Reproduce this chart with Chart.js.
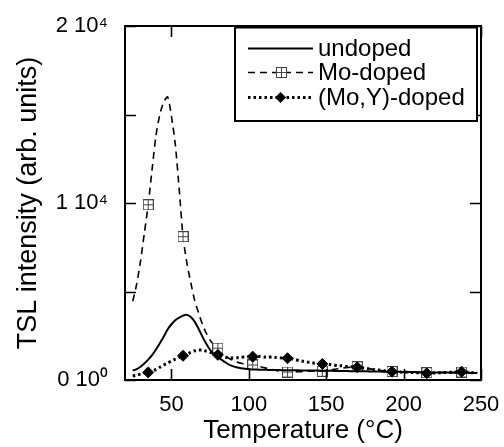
<!DOCTYPE html>
<html>
<head>
<meta charset="utf-8">
<script src="https://cdn.jsdelivr.net/npm/chart.js@4.4.1/dist/chart.umd.min.js"></script>
<style>
  html, body { margin: 0; padding: 0; background: #fff; }
  canvas { display: block; }
</style>
</head>
<body>
<canvas id="tsl-chart" width="504" height="447"></canvas>
<script>
// ---------------- data ----------------
const temps = [25, 27.5, 30, 32.5, 35, 37.5, 40, 42.5, 45, 47.5,
  50, 52.5, 55, 57.5, 60, 62.5, 65, 67.5, 70, 72.5,
  75, 77.5, 80, 82.5, 85, 87.5, 90, 92.5, 95, 97.5,
  100, 102.5, 105, 107.5, 110, 112.5, 115, 117.5, 120, 122.5,
  125, 127.5, 130, 132.5, 135, 137.5, 140, 142.5, 145, 147.5,
  150, 152.5, 155, 157.5, 160, 162.5, 165, 167.5, 170, 172.5,
  175, 177.5, 180, 182.5, 185, 187.5, 190, 192.5, 195, 197.5,
  200, 202.5, 205, 207.5, 210, 212.5, 215, 217.5, 220, 222.5,
  225, 227.5, 230, 232.5, 235, 237.5, 240, 242.5, 245, 247.5];

const undoped = [530, 620, 750, 930, 1150, 1400, 1720, 2080, 2450, 2850,
  3150, 3380, 3520, 3640, 3680, 3560, 3300, 2900, 2450, 2050,
  1700, 1450, 1290, 1140, 990, 860, 770, 710, 670, 640,
  620, 600, 590, 580, 575, 570, 565, 560, 560, 555,
  550, 550, 545, 545, 540, 540, 535, 530, 530, 525,
  520, 520, 515, 510, 510, 505, 500, 500, 495, 490,
  490, 485, 480, 480, 475, 470, 470, 465, 460, 460,
  455, 450, 450, 445, 440, 440, 435, 430, 430, 425,
  420, 420, 415, 410, 410, 405, 400, 400, 395, 390];

const moDoped = [4450, 5400, 6700, 8300, 9900, 11900, 13800, 15000, 15700, 16000,
  14900, 13300, 10800, 8100, 6600, 5500, 4500, 3800, 3150, 2650,
  2250, 1980, 1800, 1560, 1350, 1200, 1100, 1010, 950, 900,
  870, 850, 800, 750, 700, 640, 590, 540, 500, 470,
  450, 450, 460, 470, 480, 490, 495, 500, 500, 490,
  520, 560, 600, 640, 670, 700, 720, 740, 750, 720,
  680, 640, 600, 570, 540, 520, 500, 480, 470, 460,
  450, 440, 430, 420, 420, 420, 410, 410, 410, 420,
  420, 430, 440, 440, 450, 450, 440, 430, 410, 400];

const moYDoped = [230, 280, 330, 380, 430, 500, 600, 720, 850, 960,
  1070, 1180, 1280, 1370, 1460, 1560, 1650, 1700, 1690, 1630,
  1570, 1500, 1420, 1350, 1290, 1250, 1240, 1260, 1290, 1300,
  1320, 1320, 1300, 1340, 1300, 1280, 1320, 1270, 1250, 1240,
  1230, 1200, 1150, 1100, 1060, 1010, 990, 950, 930, 910,
  900, 870, 840, 810, 800, 770, 760, 740, 720, 700,
  670, 630, 600, 570, 550, 520, 500, 470, 460, 450,
  440, 440, 420, 420, 400, 390, 380, 390, 400, 410,
  420, 430, 440, 450, 460, 470, 450, 430, 410, 400];

// temperatures where the symbols sit on the curves
const markerTemps = [35, 57.5, 80, 102.5, 125, 147.5, 170, 192.5, 215, 237.5];

const seriesNames = ['undoped', 'Mo-doped', '(Mo,Y)-doped'];

const xTickValues = [50, 100, 150, 200, 250];
const yTickValues = [0, 5000, 10000, 15000, 20000];
const yLabelValues = [0, 10000, 20000];
const yTickLabels = ['0 10\u2070', '1 10\u2074', '2 10\u2074'];

const xTitle = 'Temperature (\u00B0C)';
const yTitle = 'TSL intensity (arb. units)';

// ---------------- marker images ----------------
function makeBoxCross(size) {
    const c = document.createElement('canvas');
    c.width = size; c.height = size;
    const g = c.getContext('2d');
    g.fillStyle = '#fff';
    g.fillRect(0, 0, size, size);
    g.strokeStyle = '#444';
    g.lineWidth = 1;
    g.strokeRect(0.5, 0.5, size - 1, size - 1);
    const m = Math.floor(size / 2) + 0.5;
    g.beginPath();
    g.moveTo(m, 0); g.lineTo(m, size);
    g.moveTo(0, m); g.lineTo(size, m);
    g.stroke();
    return c;
}
const boxCross = makeBoxCross(11);

const isMarker = ctx => markerTemps.indexOf(temps[ctx.dataIndex]) >= 0;

const toXY = vals => temps.map((t, i) => ({ x: t, y: vals[i] }));

const FONT = "'Liberation Sans', Arial, sans-serif";

// ---------------- frame, inward ticks and legend ----------------
const framePlugin = {
    id: 'frame',
    afterDraw(chart) {
        const ctx = chart.ctx;
        const a = chart.chartArea;
        const xs = chart.scales.x, ys = chart.scales.y;
        const tl = 11;
        ctx.save();
        ctx.strokeStyle = '#000';
        ctx.lineWidth = 1.6;
        ctx.beginPath();
        xTickValues.forEach(v => {
            const px = Math.round(xs.getPixelForValue(v)) + 0.5;
            ctx.moveTo(px, a.bottom); ctx.lineTo(px, a.bottom - tl);
            ctx.moveTo(px, a.top); ctx.lineTo(px, a.top + tl);
        });
        yTickValues.forEach(v => {
            const py = Math.round(ys.getPixelForValue(v)) + 0.5;
            ctx.moveTo(a.left, py); ctx.lineTo(a.left + tl, py);
            ctx.moveTo(a.right, py); ctx.lineTo(a.right - tl, py);
        });
        ctx.stroke();
        ctx.lineWidth = 2;
        ctx.strokeRect(a.left, a.top, a.right - a.left, a.bottom - a.top);

        // legend box
        const bx = 235, by = 27, bw = 242, bh = 94;
        ctx.fillStyle = '#fff';
        ctx.fillRect(bx, by, bw, bh);
        ctx.lineWidth = 2;
        ctx.strokeRect(bx, by, bw, bh);
        ctx.lineWidth = 3;
        ctx.beginPath();
        ctx.moveTo(bx - 1, by); ctx.lineTo(bx + bw + 1, by);
        ctx.stroke();

        const rows = [48, 72, 97];
        const x0 = 248, x1 = 313;
        chart.data.datasets.forEach((ds, i) => {
            const y = rows[i] + 0.5;
            ctx.save();
            ctx.strokeStyle = '#000';
            ctx.lineWidth = ds.borderWidth;
            ctx.setLineDash(ds.borderDash || []);
            ctx.beginPath();
            ctx.moveTo(x0, y); ctx.lineTo(x1, y);
            ctx.stroke();
            ctx.restore();
            const cx = (x0 + x1) / 2;
            if (ds.legendMarker === 'box') {
                ctx.drawImage(boxCross, Math.round(cx - 5), Math.round(y - 5.5));
            } else if (ds.legendMarker === 'diamond') {
                ctx.fillStyle = '#000';
                ctx.beginPath();
                ctx.moveTo(cx, y - 5.5); ctx.lineTo(cx + 5.5, y);
                ctx.lineTo(cx, y + 5.5); ctx.lineTo(cx - 5.5, y);
                ctx.closePath();
                ctx.fill();
            }
            ctx.fillStyle = '#000';
            ctx.font = '24px ' + FONT;
            ctx.textAlign = 'left';
            ctx.textBaseline = 'middle';
            ctx.fillText(seriesNames[i], 318, y + 1);
        });
        ctx.restore();
    }
};

// ---------------- chart ----------------
new Chart(document.getElementById('tsl-chart'), {
    type: 'line',
    data: {
        datasets: [
            {
                label: seriesNames[0],
                data: toXY(undoped),
                borderColor: '#000',
                borderWidth: 2,
                pointRadius: 0,
                tension: 0.25,
                order: 1
            },
            {
                label: seriesNames[1],
                data: toXY(moDoped),
                borderColor: '#000',
                borderWidth: 1.6,
                borderDash: [7, 5],
                pointStyle: boxCross,
                pointRadius: ctx => isMarker(ctx) ? 5 : 0,
                legendMarker: 'box',
                tension: 0.25,
                order: 2
            },
            {
                label: seriesNames[2],
                data: toXY(moYDoped),
                borderColor: '#000',
                borderWidth: 3,
                borderDash: [2.5, 3],
                pointStyle: 'rectRot',
                pointRadius: ctx => isMarker(ctx) ? 5.5 : 0,
                pointBackgroundColor: '#000',
                pointBorderColor: '#000',
                pointBorderWidth: 1,
                legendMarker: 'diamond',
                tension: 0.25,
                order: 0
            }
        ]
    },
    options: {
        responsive: false,
        animation: false,
        events: [],
        layout: { padding: { top: 26, right: 23, left: 0, bottom: 0 } },
        plugins: { legend: { display: false }, tooltip: { enabled: false } },
        scales: {
            x: {
                type: 'linear',
                min: 20,
                max: 250,
                afterBuildTicks: s => { s.ticks = xTickValues.map(v => ({ value: v })); },
                afterFit: s => { s.height = 67; },
                grid: { display: false },
                border: { display: false },
                ticks: {
                    color: '#000',
                    font: { family: FONT, size: 22 },
                    padding: 4,
                    maxRotation: 0,
                    autoSkip: false
                },
                title: {
                    display: true,
                    text: xTitle,
                    color: '#000',
                    font: { family: FONT, size: 26 },
                    padding: { top: 0, bottom: 1 }
                }
            },
            y: {
                type: 'linear',
                min: 0,
                max: 20000,
                afterBuildTicks: s => { s.ticks = yTickValues.map(v => ({ value: v })); },
                afterFit: s => { s.width = 125; },
                grid: { display: false },
                border: { display: false },
                ticks: {
                    color: '#000',
                    font: { family: FONT, size: 22 },
                    padding: 9,
                    autoSkip: false,
                    callback: v => {
                        const i = yLabelValues.indexOf(v);
                        return i >= 0 ? yTickLabels[i] : '';
                    }
                },
                title: {
                    display: true,
                    text: yTitle,
                    color: '#000',
                    font: { family: FONT, size: 27 },
                    padding: { top: 12, bottom: 0 }
                }
            }
        }
    },
    plugins: [framePlugin]
});
</script>
</body>
</html>
